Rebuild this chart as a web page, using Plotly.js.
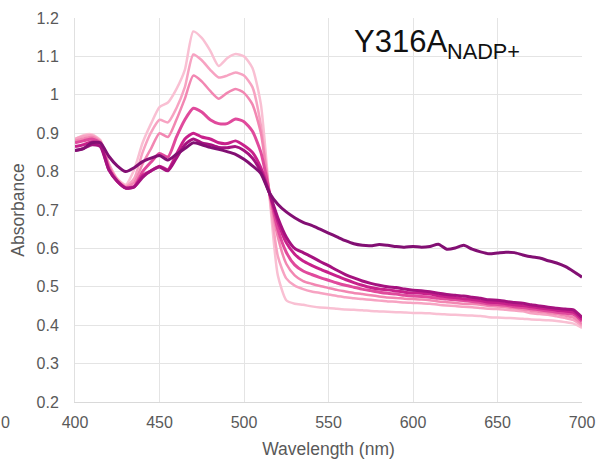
<!DOCTYPE html>
<html>
<head>
<meta charset="utf-8">
<script src="https://cdn.plot.ly/plotly-3.0.1.min.js"></script>
<style>html,body{margin:0;padding:0;background:#fff;}#chart{width:600px;height:459px;}</style>
</head>
<body>
<div id="chart"></div>
<script>
const wavelength = [400,405,410,415,420,425,430,435,440,445,450,455,460,465,470,475,480,485,490,495,500,505,510,515,520,525,530,535,540,545,550,555,560,565,570,575,580,585,590,595,600,605,610,615,620,625,630,635,640,645,650,655,660,665,670,675,680,685,690,695,700];

const s1 = [0.885,0.895,0.897,0.882,0.822,0.782,0.766,0.805,0.875,0.925,0.968,0.980,1.015,1.065,1.165,1.148,1.115,1.075,1.095,1.106,1.100,1.070,0.975,0.740,0.530,0.465,0.456,0.453,0.449,0.446,0.445,0.443,0.441,0.440,0.439,0.437,0.436,0.435,0.434,0.433,0.432,0.432,0.431,0.429,0.428,0.427,0.426,0.425,0.424,0.421,0.420,0.419,0.418,0.417,0.415,0.414,0.413,0.411,0.408,0.404,0.393];
const s2 = [0.885,0.892,0.894,0.880,0.820,0.780,0.762,0.782,0.850,0.902,0.935,0.928,0.965,1.020,1.105,1.090,1.065,1.045,1.050,1.058,1.050,1.020,0.920,0.742,0.580,0.522,0.503,0.494,0.488,0.484,0.480,0.476,0.473,0.470,0.468,0.466,0.464,0.462,0.461,0.459,0.458,0.457,0.456,0.453,0.451,0.450,0.448,0.447,0.445,0.443,0.442,0.440,0.438,0.436,0.431,0.429,0.427,0.423,0.419,0.413,0.398];
const s3 = [0.880,0.886,0.890,0.878,0.815,0.779,0.760,0.772,0.820,0.860,0.900,0.890,0.935,0.990,1.050,1.035,1.010,0.990,1.005,1.015,1.005,0.975,0.900,0.745,0.630,0.560,0.530,0.515,0.508,0.502,0.497,0.492,0.488,0.484,0.481,0.478,0.475,0.472,0.471,0.469,0.468,0.467,0.465,0.462,0.460,0.458,0.456,0.455,0.453,0.450,0.449,0.447,0.444,0.441,0.437,0.435,0.432,0.429,0.425,0.420,0.403];
const s4 = [0.875,0.880,0.885,0.875,0.810,0.775,0.758,0.762,0.800,0.825,0.847,0.838,0.890,0.935,0.965,0.955,0.935,0.925,0.925,0.937,0.930,0.905,0.850,0.748,0.650,0.590,0.557,0.541,0.532,0.524,0.517,0.510,0.504,0.499,0.494,0.490,0.486,0.483,0.481,0.478,0.476,0.475,0.473,0.470,0.468,0.466,0.464,0.462,0.459,0.455,0.454,0.452,0.448,0.446,0.443,0.440,0.437,0.434,0.431,0.428,0.410];
const s5 = [0.865,0.870,0.878,0.870,0.805,0.775,0.757,0.760,0.790,0.802,0.814,0.805,0.845,0.885,0.900,0.890,0.885,0.875,0.873,0.880,0.868,0.850,0.810,0.745,0.670,0.615,0.585,0.567,0.556,0.546,0.537,0.528,0.519,0.511,0.504,0.498,0.494,0.492,0.489,0.486,0.484,0.483,0.481,0.477,0.474,0.472,0.469,0.467,0.464,0.460,0.459,0.456,0.453,0.451,0.448,0.445,0.442,0.439,0.437,0.434,0.415];
const s6 = [0.855,0.860,0.870,0.865,0.805,0.775,0.757,0.760,0.785,0.802,0.812,0.802,0.835,0.870,0.885,0.875,0.870,0.863,0.862,0.865,0.855,0.835,0.800,0.745,0.680,0.630,0.600,0.589,0.578,0.566,0.555,0.543,0.532,0.523,0.515,0.509,0.504,0.500,0.498,0.494,0.491,0.490,0.487,0.483,0.480,0.478,0.476,0.473,0.470,0.466,0.465,0.462,0.459,0.457,0.453,0.450,0.447,0.444,0.442,0.440,0.420];
const s7 = [0.855,0.860,0.875,0.875,0.840,0.815,0.800,0.810,0.826,0.835,0.842,0.830,0.845,0.860,0.875,0.870,0.863,0.858,0.852,0.845,0.832,0.815,0.795,0.745,0.715,0.695,0.680,0.668,0.660,0.650,0.640,0.630,0.620,0.612,0.608,0.607,0.610,0.608,0.605,0.603,0.605,0.603,0.605,0.611,0.598,0.601,0.608,0.598,0.591,0.586,0.588,0.590,0.589,0.583,0.578,0.575,0.568,0.562,0.553,0.540,0.525];

const seriesValues = [s1, s2, s3, s4, s5, s6, s7];
const seriesNames = ['1', '2', '3', '4', '5', '6', '7'];
const seriesColors = ['#f9c0d3', '#f7a3c2', '#f287b2', '#e04a9c', '#c8218b', '#a5127f', '#820f73'];
const seriesWidths = [2.5, 2.5, 2.5, 3, 3, 3, 3];

const traces = seriesValues.map((vals, i) => ({
  x: wavelength,
  y: vals,
  type: 'scatter',
  mode: 'lines',
  name: seriesNames[i],
  line: {color: seriesColors[i], width: seriesWidths[i], shape: 'spline', smoothing: 0.6}
}));

const layout = {
  width: 600,
  height: 459,
  margin: {l: 75, r: 18, t: 18, b: 57},
  paper_bgcolor: '#ffffff',
  plot_bgcolor: '#ffffff',
  showlegend: false,
  font: {family: 'Liberation Sans, Arial, sans-serif', color: '#595959', size: 16},
  xaxis: {
    range: [400, 700],
    tickvals: [400, 450, 500, 550, 600, 650, 700],
    ticktext: ['400', '450', '500', '550', '600', '650', '700'],
    showgrid: true,
    gridcolor: '#e4e4e4',
    gridwidth: 1,
    zeroline: false,
    showline: true,
    linecolor: '#d9d9d9',
    linewidth: 1,
    ticks: '',
    ticklabelstandoff: 6,
    tickfont: {size: 16, color: '#595959'},
    title: {text: 'Wavelength (nm)', font: {size: 17.5, color: '#595959'}, standoff: 12}
  },
  yaxis: {
    range: [0.2, 1.2],
    tickvals: [0.2, 0.3, 0.4, 0.5, 0.6, 0.7, 0.8, 0.9, 1.0, 1.1, 1.2],
    ticktext: ['0.2', '0.3', '0.4', '0.5', '0.6', '0.7', '0.8', '0.9', '1', '1.1', '1.2'],
    showgrid: true,
    gridcolor: '#e4e4e4',
    gridwidth: 1,
    zeroline: false,
    showline: true,
    linecolor: '#e0e0e0',
    ticks: '',
    ticklabelstandoff: 12,
    tickfont: {size: 16, color: '#595959'},
    title: {text: 'Absorbance', font: {size: 17.5, color: '#595959'}, standoff: 7}
  },
  annotations: [
    {
      x: 564, y: 1.132, xref: 'x', yref: 'y',
      text: 'Y316A<sub>NADP+</sub>',
      showarrow: false, xanchor: 'left', yanchor: 'middle',
      font: {size: 31, color: '#111111', family: 'Liberation Sans, Arial, sans-serif'}
    },
    {
      x: -76 / 507, y: (402 - 422) / 384, xref: 'paper', yref: 'paper',
      xanchor: 'left', yanchor: 'middle',
      text: '0', showarrow: false, font: {size: 16, color: '#595959'}
    }
  ]
};

Plotly.newPlot('chart', traces, layout, {displayModeBar: false, staticPlot: true});
</script>
</body>
</html>
